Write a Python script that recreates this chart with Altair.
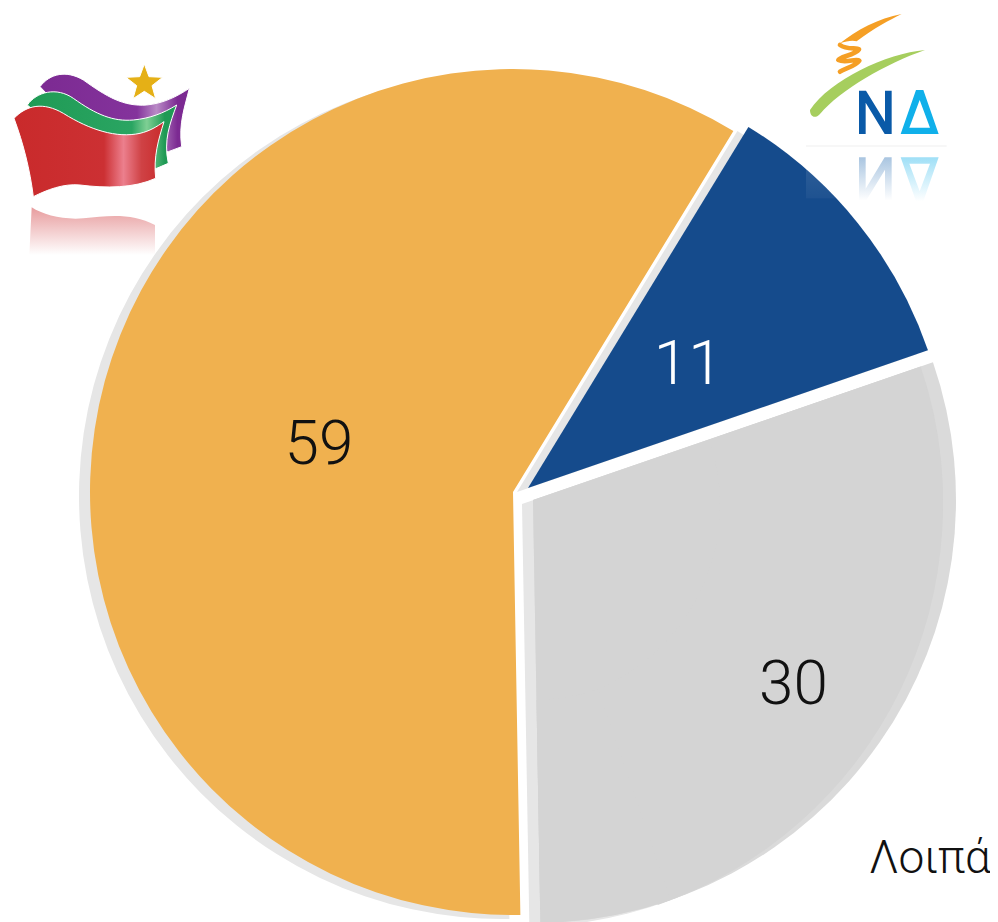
import base64
import math
import altair as alt
import pandas as pd

parties = ["ΝΔ", "Λοιπά", "ΣΥΡΙΖΑ"]
shares = [11, 30, 59]
labels = ["11", "30", "59"]
slice_colors = ["#154b8c", "#dadada", "#f0b14f"]
label_colors = ["#ffffff", "#111111", "#111111"]
shade_lo = [11, 36]
shade_hi = [36, 41]

start = math.radians(31.4)
ends = pd.Series(shares).cumsum()
df = pd.DataFrame({
    "party": parties,
    "share": shares,
    "label": labels,
    "lo": ends - pd.Series(shares),
    "hi": ends,
})
df["mid"] = (df.lo + df.hi) / 2
shade = pd.DataFrame({"lo": shade_lo, "hi": shade_hi})

theta_scale = alt.Scale(domain=[0, 100], range=[start, start + 2 * math.pi])
W, H = 982, 914
R = 423


def offs(cx, cy):
    return dict(xOffset=cx - 8 - W / 2, yOffset=cy - 8 - H / 2)


def piece(frame, cx, cy, color, radius=R, inner=0):
    return (
        alt.Chart(frame)
        .mark_arc(radius=radius, radius2=inner, color=color, **offs(cx, cy))
        .encode(
            theta=alt.Theta("lo:Q", scale=theta_scale),
            theta2="hi:Q",
        )
    )


def label(i, cx, cy, r, size=62):
    return (
        alt.Chart(df.iloc[[i]])
        .mark_text(
            radius=r,
            font="Roboto",
            fontWeight=300,
            fontSize=size,
            align="center",
            baseline="middle",
            color=label_colors[i],
            **offs(cx, cy),
        )
        .encode(theta=alt.Theta("mid:Q", scale=theta_scale), text="label:N")
    )


centers = {0: (528, 488), 1: (533, 500), 2: (513, 492)}
shadow_shift = (-11, 4)
shadows = [
    piece(df.iloc[[i]], c[0] + shadow_shift[0], c[1] + shadow_shift[1], "#e6e6e6")
    for i, c in centers.items()
]
slices = [piece(df.iloc[[i]], c[0], c[1], slice_colors[i]) for i, c in centers.items()]
gray_fill = [
    piece(df.iloc[[1]], 533, 500, "#d4d4d4", radius=410),
    piece(shade.iloc[[0]], 520, 505, "#d4d4d4", inner=200),
    piece(shade.iloc[[1]], 533, 500, "#d4d4d4", inner=200),
]
texts = [
    label(0, 530, 492, 203),
    label(1, 533, 503, 318),
    label(2, 510, 497, 198),
]

other = (
    alt.Chart(pd.DataFrame({"t": ["Λοιπά"]}))
    .mark_text(font="Roboto", fontWeight=300, fontSize=46, align="right", baseline="middle", color="#111111")
    .encode(x=alt.value(983), y=alt.value(851), text="t:N")
)

SYRIZA = """<svg xmlns="http://www.w3.org/2000/svg" viewBox="0 0 630 630" width="210" height="210">
<defs>
<linearGradient id="r" x1="0" x2="1" y1="0" y2="0"><stop offset="0" stop-color="#c92a2b"/><stop offset="0.6" stop-color="#cc3033"/><stop offset="0.73" stop-color="#ec7f8d"/><stop offset="0.85" stop-color="#cf4245"/><stop offset="1" stop-color="#c92a2b"/></linearGradient>
<linearGradient id="g" x1="0" x2="1" y1="0" y2="0"><stop offset="0" stop-color="#1f9a55"/><stop offset="0.7" stop-color="#2aa562"/><stop offset="0.8" stop-color="#7fcf94"/><stop offset="0.92" stop-color="#1f9a55"/></linearGradient>
<linearGradient id="p" x1="0" x2="1" y1="0" y2="0"><stop offset="0" stop-color="#7c2a92"/><stop offset="0.65" stop-color="#84339c"/><stop offset="0.78" stop-color="#b98ac6"/><stop offset="0.92" stop-color="#7c2a92"/></linearGradient>
<linearGradient id="f" x1="0" x2="0" y1="0" y2="1"><stop offset="0" stop-color="#d0393c" stop-opacity="0.5"/><stop offset="1" stop-color="#d0393c" stop-opacity="0"/></linearGradient>
</defs>
<path d="M120,110 C150,70 200,60 250,90 C320,140 370,170 440,165 C490,160 530,140 568,115 C555,170 535,220 545,290 L505,305 L300,300 Z" fill="url(#p)" stroke="#fff" stroke-width="3"/>
<path d="M82,165 C110,125 170,110 220,145 C290,195 340,215 400,210 C450,205 490,190 530,165 C510,220 490,270 505,340 L470,355 L300,350 Z" fill="url(#g)" stroke="#fff" stroke-width="3"/>
<path d="M42,205 C80,165 130,155 190,190 C270,240 350,265 420,250 C450,243 470,230 492,215 C475,270 460,320 467,385 C400,415 320,415 240,405 C190,400 140,420 100,440 C90,360 70,280 42,205 Z" fill="url(#r)" stroke="#fff" stroke-width="3"/>
<path d="M433,42 L447,80 L488,82 L456,107 L467,146 L433,124 L399,146 L410,107 L378,82 L419,80 Z" fill="#e5b016" stroke="#fff" stroke-width="3"/>
<path d="M95,472 C130,495 190,510 250,505 C330,495 400,490 465,525 L465,615 L88,615 Z" fill="url(#f)"/>
</svg>"""

ND = """<svg xmlns="http://www.w3.org/2000/svg" viewBox="0 0 540 630" width="180" height="210">
<defs>
<linearGradient id="a" x1="0" x2="0" y1="1" y2="0"><stop offset="0" stop-color="#0a5aa8" stop-opacity="0.35"/><stop offset="1" stop-color="#0a5aa8" stop-opacity="0"/></linearGradient>
<linearGradient id="b" x1="0" x2="0" y1="1" y2="0"><stop offset="0" stop-color="#10b0ea" stop-opacity="0.4"/><stop offset="1" stop-color="#10b0ea" stop-opacity="0"/></linearGradient>
<linearGradient id="w" x1="0" x2="0" y1="0" y2="1"><stop offset="0" stop-color="#ffffff" stop-opacity="0.12"/><stop offset="1" stop-color="#ffffff" stop-opacity="0.04"/></linearGradient>
</defs>
<path d="M335,42 C265,55 200,90 150,130 C170,122 190,120 200,124 C250,85 300,60 335,42 Z" fill="#f59f25"/>
<path d="M150,135 C170,150 200,142 207,148 C195,165 150,170 145,180 C165,190 200,175 208,182 C195,200 165,205 150,215" fill="none" stroke="#f59f25" stroke-width="14" stroke-linecap="round" stroke-linejoin="round"/>
<path d="M405,150 C290,160 120,240 60,330 C60,350 75,358 90,342 C150,270 290,190 405,150 Z" fill="#a6ce5e"/>
<path d="M207,402 V272 H228 L285,365 V272 H305 V402 H284 L227,308 V402 Z" fill="#0a5aa8"/>
<path fill-rule="evenodd" d="M378,270 H400 L446,402 H332 Z M389,300 L358,383 H420 Z" fill="#10b0ea"/>
<rect x="48" y="437" width="422" height="2" fill="#e6e6e6"/>
<g transform="translate(0,874) scale(1,-1)">
<path d="M207,402 V272 H228 L285,365 V272 H305 V402 H284 L227,308 V402 Z" fill="url(#a)"/>
<path fill-rule="evenodd" d="M378,270 H400 L446,402 H332 Z M389,300 L358,383 H420 Z" fill="url(#b)"/>
</g>
<rect x="48" y="470" width="130" height="125" fill="url(#w)"/>
</svg>"""


def logo(svg, cx, cy, w, h):
    uri = "data:image/svg+xml;base64," + base64.b64encode(svg.encode()).decode()
    return (
        alt.Chart(pd.DataFrame({"u": [uri]}))
        .mark_image(width=w, height=h, align="center", baseline="middle")
        .encode(url="u:N", x=alt.value(cx - 8), y=alt.value(cy - 8))
    )


logos = [logo(SYRIZA, 105, 155, 210, 210), logo(ND, 880, 105, 180, 210)]

chart = (
    alt.layer(*shadows, *slices, *gray_fill, *texts, other, *logos)
    .properties(width=W, height=H, padding=0, autosize=alt.AutoSizeParams(type="none"))
    .configure_view(stroke=None)
)
chart.save("out.html", embed_options={"renderer": "svg", "actions": False})
